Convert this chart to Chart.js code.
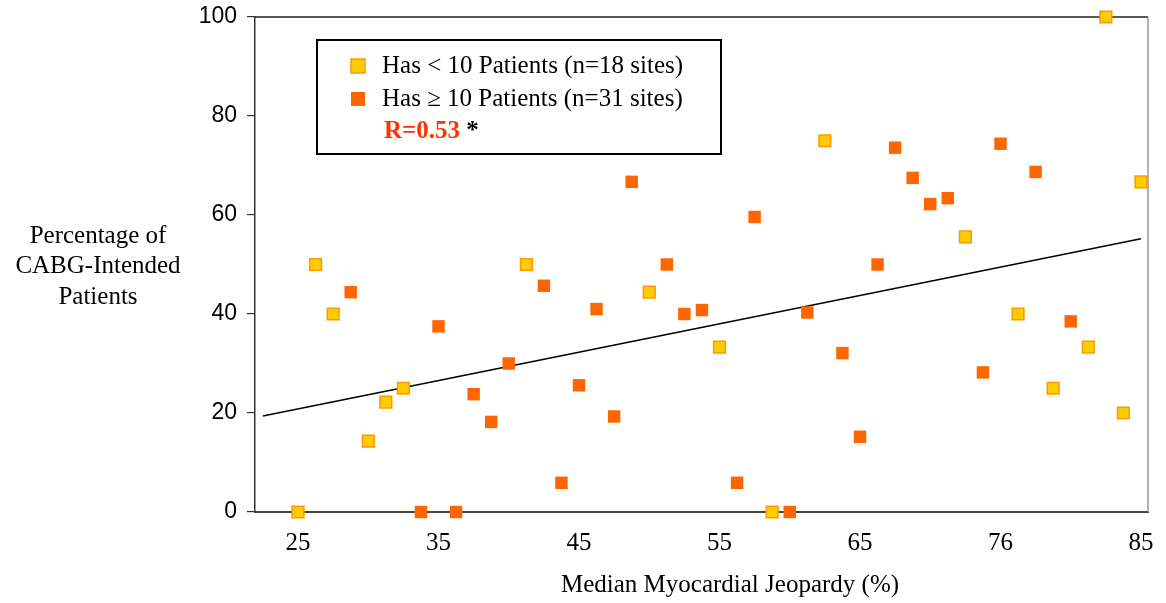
<!DOCTYPE html>
<html><head><meta charset="utf-8">
<script src="https://cdn.jsdelivr.net/npm/chart.js@4"></script>
<style>html,body{margin:0;padding:0;background:#fff}#wrap{width:1166px;height:603px;position:relative}</style>
</head><body><div id="wrap"><canvas id="c" width="1166" height="603"></canvas></div>
<script>
// Sites ordered by median myocardial jeopardy (x = site rank)
const smallSiteIndex  = [0, 1, 2, 4, 5, 6, 13, 20, 24, 27, 30, 38, 41, 43, 45, 46, 47, 48];
const smallSiteValues = [0, 50, 40, 14.3, 22.2, 25, 50, 44.4, 33.3, 0, 75, 55.6, 40, 25, 33.3, 100, 20, 66.7];
const largeSiteIndex  = [3, 7, 8, 9, 10, 11, 12, 14, 15, 16, 17, 18, 19, 21, 22, 23, 25, 26, 28, 29, 31, 32, 33, 34, 35, 36, 37, 39, 40, 42, 44];
const largeSiteValues = [44.4, 0, 37.5, 0, 23.8, 18.2, 30, 45.7, 5.9, 25.6, 41, 19.3, 66.7, 50, 40, 40.8, 5.9, 59.6, 0, 40.3, 32.1, 15.2, 50, 73.6, 67.5, 62.2, 63.4, 28.2, 74.4, 68.7, 38.5];
const trendIndex  = [-2, 48];
const trendValues = [19.4, 55.2];
const xTickIndex  = [0, 8, 16, 24, 32, 40, 48];
const xTickLabels = ['25', '35', '45', '55', '65', '76', '85'];
const legendLabels = ['Has < 10 Patients (n=18 sites)', 'Has \u2265 10 Patients (n=31 sites)'];
const corrLabel = 'R=0.53';
const corrMark = ' *';
const yTitleLines = ['Percentage of', 'CABG-Intended', 'Patients'];
const xTitle = 'Median Myocardial Jeopardy (%)';

const toPts = (xs, ys) => xs.map((x, i) => ({x: x, y: ys[i]}));
const SERIF = '"Liberation Serif", "Times New Roman", serif';
const SANS = '"Liberation Sans", Arial, sans-serif';

const decor = {
  id: 'decor',
  beforeDatasetsDraw(chart) {
    const {ctx, chartArea: a} = chart;
    ctx.save();
    ctx.lineWidth = 1.5;
    ctx.strokeStyle = '#222';
    ctx.beginPath(); ctx.moveTo(a.left, a.top); ctx.lineTo(a.right, a.top); ctx.stroke();
    ctx.strokeStyle = '#999';
    ctx.beginPath(); ctx.moveTo(a.right, a.top); ctx.lineTo(a.right, a.bottom); ctx.stroke();
    ctx.restore();
  },
  afterDraw(chart) {
    const {ctx} = chart;
    ctx.save();
    ctx.fillStyle = '#000';
    ctx.font = '25px ' + SERIF;
    ctx.textAlign = 'center';
    ctx.textBaseline = 'middle';
    yTitleLines.forEach((t, i) => ctx.fillText(t, 98, 236 + i * 30.5));
    ctx.fillText(xTitle, 730, 585);
    // legend box
    ctx.lineWidth = 2;
    ctx.strokeStyle = '#000';
    ctx.fillStyle = '#fff';
    ctx.fillRect(317, 40, 404, 114);
    ctx.strokeRect(317, 40, 404, 114);
    const ds = chart.data.datasets;
    ctx.textAlign = 'left';
    legendLabels.forEach((t, i) => {
      const y = 66 + i * 33;
      ctx.fillStyle = ds[i].backgroundColor;
      ctx.fillRect(351, y - 7, 14, 14);
      if (ds[i].borderWidth > 0) {
        ctx.lineWidth = 1.5; ctx.strokeStyle = ds[i].borderColor;
        ctx.strokeRect(351, y - 7, 14, 14);
      }
      ctx.fillStyle = '#000';
      ctx.fillText(t, 382, y);
    });
    ctx.font = 'bold 25px ' + SERIF;
    ctx.fillStyle = '#FF3300';
    ctx.fillText(corrLabel, 384, 132);
    const w = ctx.measureText(corrLabel).width;
    ctx.fillStyle = '#000';
    ctx.fillText(corrMark, 384 + w, 132);
    ctx.restore();
  }
};

new Chart(document.getElementById('c'), {
  type: 'scatter',
  data: {
    datasets: [
      {label: legendLabels[0], data: toPts(smallSiteIndex, smallSiteValues), pointStyle: 'rect', pointRadius: 8.3, pointHoverRadius: 8.3,
       backgroundColor: '#FFCC00', borderColor: '#FF9900', borderWidth: 1.5, clip: false},
      {label: legendLabels[1], data: toPts(largeSiteIndex, largeSiteValues), pointStyle: 'rect', pointRadius: 8.8, pointHoverRadius: 8.8,
       backgroundColor: '#FF6600', borderColor: '#FF6600', borderWidth: 0, clip: false},
      {label: 'trend', data: toPts(trendIndex, trendValues), showLine: true, pointRadius: 0, borderColor: '#000', borderWidth: 1.5, fill: false}
    ]
  },
  options: {
    responsive: false, animation: false, devicePixelRatio: 1,
    layout: {padding: {top: 17, right: 18, left: 0, bottom: 0}},
    plugins: {legend: {display: false}, tooltip: {enabled: false}},
    scales: {
      x: {
        type: 'linear', min: -2.45, max: 48.4,
        afterBuildTicks: s => { s.ticks = xTickIndex.map(v => ({value: v})); },
        afterFit: s => { s.height = 91; s.paddingLeft = 0; s.paddingRight = 0; },
        ticks: {callback: (v, i) => xTickLabels[i], autoSkip: false, maxRotation: 0, padding: 16,
                font: {family: SERIF, size: 25}, color: '#000'},
        grid: {display: false, drawTicks: false, tickLength: 0},
        border: {display: true, color: '#444', width: 2}
      },
      y: {
        min: 0, max: 100,
        afterFit: s => { s.width = 255; s.paddingTop = 0; s.paddingBottom = 0; },
        ticks: {stepSize: 20, padding: 10, font: {family: SANS, size: 23}, color: '#000'},
        grid: {display: true, drawOnChartArea: false, drawTicks: true, tickLength: 8, color: '#333', lineWidth: 1.2},
        border: {display: true, color: '#333', width: 1.5}
      }
    }
  },
  plugins: [decor]
});
</script></body></html>
